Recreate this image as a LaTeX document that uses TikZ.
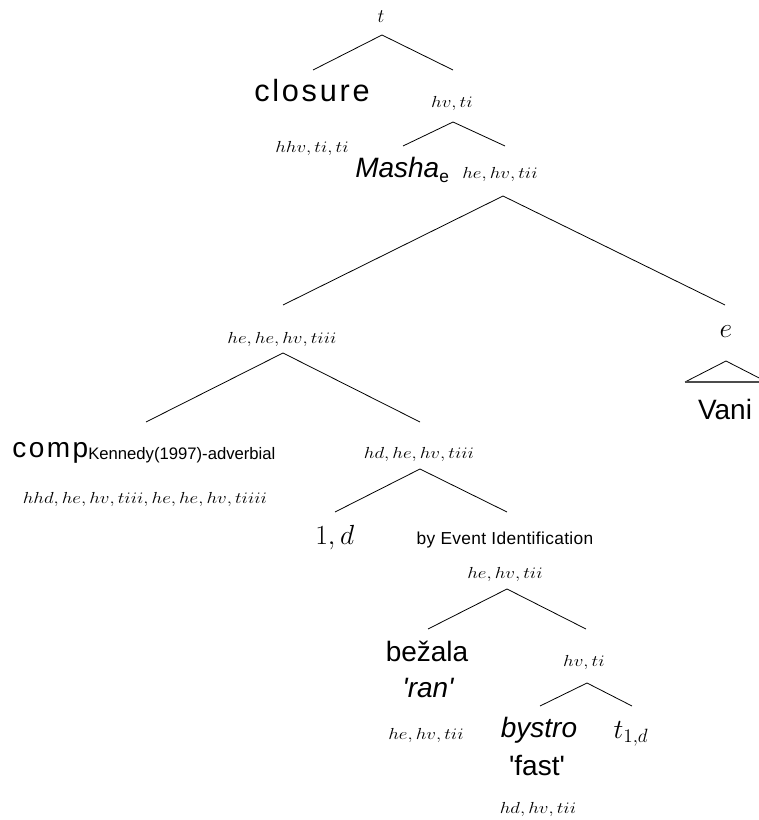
\documentclass[tikz,border=0pt]{standalone}
\usepackage{fontspec}
\usepackage{graphicx}
\setmainfont{Liberation Sans}
\newcommand{\sq}{\textquotesingle}
\newcommand{\ty}[1]{\scalebox{1.18}[1]{$#1$}}
\begin{document}
\begin{tikzpicture}[x=0.75pt,y=-0.75pt,
  lab/.style={inner sep=0pt,anchor=base},
  word/.style={lab,font=\fontsize{21}{25}\selectfont},
  typ/.style={lab,font=\fontsize{13}{15}\selectfont},
  bigm/.style={lab,font=\fontsize{20}{24}\selectfont},
  note/.style={lab,font=\fontsize{13}{15}\selectfont\addfontfeature{LetterSpace=2}},
  edge/.style={line width=0.6pt,black},
  ]
\useasboundingbox (0,0) rectangle (758,820);
% labels
\node[lab,font=\fontsize{14}{16}\selectfont] (t) at (381,23) {$t$};
\node[word,font=\fontsize{23}{27}\selectfont\addfontfeature{LetterSpace=9}] (closure) at (312,102) {closure};
\node[typ] (vt1) at (452,108) {\ty{hv,ti}};
\node[typ] (vtt) at (312,152) {\ty{hhv,ti,ti}};
\node[word,anchor=base west,font=\itshape\fontsize{21}{25}\selectfont] (masha) at (355,177) {Masha\raisebox{-4pt}{\upshape\fontsize{13}{15}\selectfont e}};
\node[typ] (evt1) at (500,178) {\ty{he,hv,tii}};
\node[typ] (eevt) at (282,343) {\ty{he,he,hv,tiii}};
\node[bigm] (e) at (726,337) {$e$};
\node[word] (vani) at (725,419) {Vani};
\node[word,anchor=base west] (comp) at (12,457) {{\addfontfeature{LetterSpace=9}comp}\raisebox{-2pt}{\fontsize{12.5}{15}\selectfont Kennedy(1997)-adverbial}};
\node[typ] (compt) at (145,503) {\ty{hhd,he,hv,tiii,he,he,hv,tiiii}};
\node[typ] (devt) at (419,458) {\ty{hd,he,hv,tiii}};
\node[bigm,anchor=base west] (oned) at (315,544) {$1,d$};
\node[note] (byei) at (505,544) {by Event Identification};
\node[typ] (evt2) at (505,578) {\ty{he,hv,tii}};
\node[word] (bezala) at (427,661) {bežala};
\node[word,font=\itshape\fontsize{21}{25}\selectfont] (ran) at (428,697) {\sq ran\sq};
\node[typ] (evt3) at (426,739) {\ty{he,hv,tii}};
\node[typ] (vt2) at (584,666) {\ty{hv,ti}};
\node[word,font=\itshape\fontsize{21}{25}\selectfont] (bystro) at (539,737) {bystro};
\node[bigm] (tone) at (631,738) {$t_{1,d}$};
\node[word] (fast) at (537,775) {\sq fast\sq};
\node[typ] (dvt) at (538,813) {\ty{hd,hv,tii}};
% branch points
\coordinate (a0) at (382,35);  \coordinate (a0l) at (313,70);  \coordinate (a0r) at (453,70);
\coordinate (a1) at (453,122); \coordinate (a1l) at (403,146); \coordinate (a1r) at (505,146);
\coordinate (a2) at (503,196); \coordinate (a2l) at (283,305); \coordinate (a2r) at (725,305);
\coordinate (a3) at (283,353); \coordinate (a3l) at (146,422); \coordinate (a3r) at (420,422);
\coordinate (a4) at (420,469); \coordinate (a4l) at (335,512); \coordinate (a4r) at (507,512);
\coordinate (a5) at (507,589); \coordinate (a5l) at (428,629); \coordinate (a5r) at (586,629);
\coordinate (a6) at (587,683); \coordinate (a6l) at (540,706); \coordinate (a6r) at (632,706);
\coordinate (tri) at (726,361); \coordinate (tril) at (685,382); \coordinate (trir) at (767,382);
\draw[edge] (a0l) -- (a0) -- (a0r);
\draw[edge] (a1l) -- (a1) -- (a1r);
\draw[edge] (a2l) -- (a2) -- (a2r);
\draw[edge] (a3l) -- (a3) -- (a3r);
\draw[edge] (a4l) -- (a4) -- (a4r);
\draw[edge] (a5l) -- (a5) -- (a5r);
\draw[edge] (a6l) -- (a6) -- (a6r);
\draw[edge] (tril) -- (tri) -- (trir);
\draw[line width=1pt,black!70] (tril) -- (trir);
\end{tikzpicture}
\end{document}
